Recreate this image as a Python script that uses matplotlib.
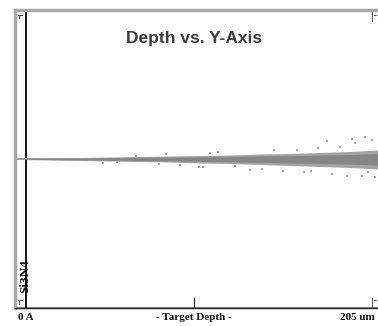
import matplotlib.pyplot as plt
import numpy as np

# depth axis in um, lateral (Y) axis in arbitrary units around the beam line
depth_max = 205
target_surface = 5.8

# dense band of ion positions: depth stations and half-widths above / below
band_depth = [5.8, 19.6, 36.8, 54.1, 71.4, 88.7, 106.0, 123.2, 140.5, 157.8, 175.1, 192.3, 208.4]
band_upper = [0.6, 1.0, 1.5, 2.0, 2.5, 3.0, 3.5, 4.0, 5.0, 5.5, 6.5, 7.5, 9.0]
band_lower = [0.6, 1.0, 1.5, 2.0, 2.5, 3.0, 4.0, 4.5, 5.5, 6.5, 7.5, 8.5, 10.0]

# stray ions outside the dense band
stray_depth = [50.1, 58.2, 69.1, 82.3, 86.4, 94.4, 105.4, 107.7, 111.7, 116.3,
               126.1, 134.7, 141.6, 148.6, 153.7, 161.8, 165.8, 169.9, 173.9, 179.1,
               181.9, 186.6, 190.6, 195.2, 199.2, 201.0, 202.7, 205.0, 206.7, 193.5]
stray_y = [-4, -3, 3, -5, 5, -6, -8, -8, 6, 7,
           -7, -11, -10, 9, -12, 9, -13, -12, 11, 18,
           -15, 12, -17, 16, -17, 22, -13, 19, -18, 20]

W, H = 378, 326
fig = plt.figure(figsize=(W / 100, H / 100), dpi=100)

# axes box in pixels: left 15, right 378, top 10, bottom 308
ax = fig.add_axes([15 / W, 1 - 308 / H, (W - 15) / W, (308 - 10) / H])
s = depth_max / (372 - 16)
ax.set_xlim(-1 * s, depth_max + 6 * s)
ax.set_ylim(-149, 149)
ax.set_xticks([])
ax.set_yticks([])
ax.spines["right"].set_visible(False)
ax.spines["left"].set_color("#a8a8a8")
ax.spines["left"].set_linewidth(2.5)
ax.spines["top"].set_color("#a8a8a8")
ax.spines["top"].set_linewidth(2.5)
ax.spines["bottom"].set_color("#202020")
ax.spines["bottom"].set_linewidth(1.0)
ax.axhline(-147.5, color="#a0a0a0", lw=1.0)

# target surface line
ax.axvline(target_surface, color="#101010", lw=1.4)

# beam centre line
ax.plot([0, depth_max + 6 * s], [0, 0], color="#8c8c8c", lw=1.2, zorder=2)

# ion distribution band
bd = np.array(band_depth)
bu = np.array(band_upper)
bl = np.array(band_lower)
ax.fill_between(bd, -bl, bu, color="#a4a4a4", lw=0, zorder=3)
ax.fill_between(bd, -bl * 0.6, bu * 0.6, color="#868686", lw=0, zorder=4)
ax.scatter(stray_depth, stray_y, s=1.0, marker="s", color="#a8a8a8", lw=0, zorder=5)

# range markers
mid = depth_max / 2
ax.plot([mid, mid], [-148, -139], color="#202020", lw=0.8)
ax.plot([depth_max, depth_max], [-148, -139], color="#606060", lw=0.8)
ax.plot([depth_max, depth_max], [147, 138], color="#606060", lw=0.8)
ax.plot([depth_max + 1.5 * s, depth_max + 3.5 * s], [-141, -141], color="#606060", lw=0.8)
ax.plot([depth_max + 1.5 * s, depth_max + 3.5 * s], [144, 144], color="#606060", lw=0.8)
ax.plot([2 * s, 6 * s], [144, 144], color="#404040", lw=0.8)
ax.plot([3 * s, 3 * s], [144, 141], color="#404040", lw=0.8)
ax.plot([2 * s, 6 * s], [-141, -141], color="#606060", lw=0.8)
ax.plot([3 * s, 3 * s], [-141, -145], color="#606060", lw=0.8)

ax.text(194 / W * W / (W - 15) - 15 / (W - 15), (308 - 38) / 298, "Depth vs. Y-Axis",
        transform=ax.transAxes, ha="center", va="center", fontsize=12.5,
        fontweight="bold", color="#3c3c3c", family="Liberation Sans")

ax.text(target_surface - 0.6, -117, "Si3N4", rotation=90, ha="center", va="center",
        fontsize=9.5, fontweight="bold", family="Liberation Serif", color="#101010")

serif = dict(family="Liberation Serif", fontweight="bold", fontsize=8, color="#101010")
fig.text(18 / W, 1 - 318 / H, "0 A", ha="left", va="center", **serif)
fig.text(194 / W, 1 - 318 / H, "- Target Depth -", ha="center", va="center", **serif)
fig.text(375 / W, 1 - 318 / H, "205 um", ha="right", va="center", **serif)

fig.savefig("out.png", dpi=100, facecolor="white")
